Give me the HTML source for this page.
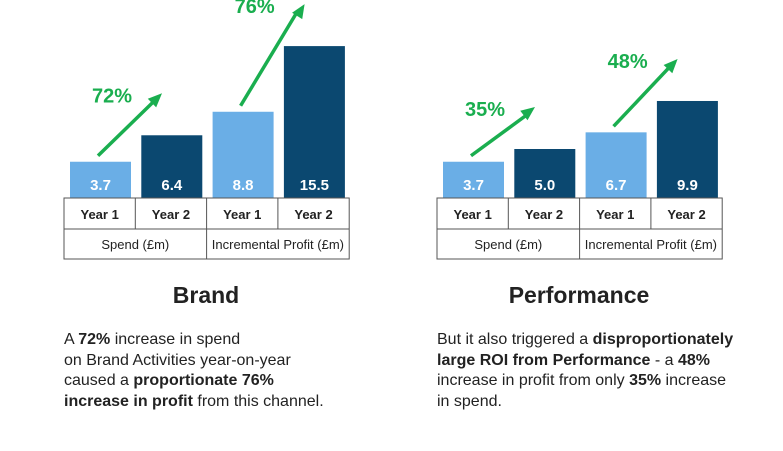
<!DOCTYPE html>
<html><head><meta charset="utf-8"><style>
body{margin:0;width:783px;height:451px;background:#fff;font-family:"Liberation Sans",sans-serif;overflow:hidden;position:relative}
svg{position:absolute;left:0;top:0}
.p{position:absolute;font-size:16px;line-height:20.5px;color:#222;width:330px}
.t{position:absolute;font-size:23px;font-weight:bold;color:#222;text-align:center;width:300px}
</style></head><body>
<svg width="783" height="451" id="s"></svg>
<div class="t" style="left:56px;top:282px">Brand</div>
<div class="t" style="left:429px;top:282px">Performance</div>
<div class="p" style="left:64px;top:330px">A <b>72%</b> increase in spend<br>on Brand Activities year-on-year<br>caused a <b>proportionate 76%<br>increase in profit</b> from this channel.</div>
<div class="p" style="left:437px;top:330px;width:340px">But it also triggered a <b>disproportionately<br>large ROI from Performance</b> - a <b>48%</b><br>increase in profit from only <b>35%</b> increase<br>in spend.</div>
<script>
const categories=["Year 1","Year 2","Year 1","Year 2"];
const groups=["Spend (£m)","Incremental Profit (£m)"];
const brandValues=[3.7,6.4,8.8,15.5];
const perfValues=[3.7,5.0,6.7,9.9];
const brandPct=["72%","76%"];
const perfPct=["35%","48%"];
const NS="http://www.w3.org/2000/svg",s=document.getElementById('s');
function el(t,a,txt){const e=document.createElementNS(NS,t);for(const k in a)e.setAttribute(k,a[k]);if(txt!=null)e.textContent=txt;s.appendChild(e);return e;}
const base=198,k=9.8;
function y(v){return base-v*k;}
function chart(x0,vals,pcts,nm){
  const cw=71.3;
  vals.forEach((v,i)=>{
    const bx=x0+i*cw+6;
    const r=el('rect',{x:bx,y:y(v),width:61,height:v*k,fill:i%2?'#0b4870':'#6aaee6'});
    
    
    const t=el('text',{x:bx+30.5,y:190,'text-anchor':'middle','font-size':15,'font-weight':'bold',fill:'#fff'},v.toFixed(1));
    
    
  });
  for(let g=0;g<2;g++){
    const a=vals[g*2],b=vals[g*2+1];
    const x1=x0+g*2*cw+34,y1=y(a)-6,x2=x1+64,y2=y(b)-42;
    const ln=el('line',{x1:x1,y1:y1,x2:x2-7,y2:y2+7,stroke:'#1aae4f','stroke-width':3.5});
    
    
    const ang=Math.atan2(y2-y1,x2-x1),L=14,W=6;
    const bxp=x2-L*Math.cos(ang),byp=y2-L*Math.sin(ang);
    const h=el('polygon',{points:`${x2},${y2} ${bxp+W*Math.sin(ang)},${byp-W*Math.cos(ang)} ${bxp-W*Math.sin(ang)},${byp+W*Math.cos(ang)}`,fill:'#1aae4f'});
    
    
    const pt=el('text',{x:x1+14,y:y2+9,'text-anchor':'middle','font-size':20,'font-weight':'bold',fill:'#1aae4f'},pcts[g]);
    
    
  }
  const W4=cw*4;
  const tb=el('rect',{x:x0,y:198,width:W4,height:61,fill:'none',stroke:'#555','stroke-width':1});
  
  
  el('line',{x1:x0,y1:229,x2:x0+W4,y2:229,stroke:'#555'});
  for(let i=1;i<4;i++)el('line',{x1:x0+i*cw,y1:198,x2:x0+i*cw,y2:i==2?259:229,stroke:'#555'});
  categories.forEach((c,i)=>{
    const t=el('text',{x:x0+i*cw+cw/2,y:219,'text-anchor':'middle','font-size':13,'font-weight':'bold',fill:'#222'},c);
    
    
  });
  groups.forEach((g,i)=>{
    const t=el('text',{x:x0+i*2*cw+cw,y:249,'text-anchor':'middle','font-size':13,fill:'#222'},g);
    
    
  });
}
chart(64,brandValues,brandPct,'brand');
chart(437,perfValues,perfPct,'performance');
</script>
</body></html>
